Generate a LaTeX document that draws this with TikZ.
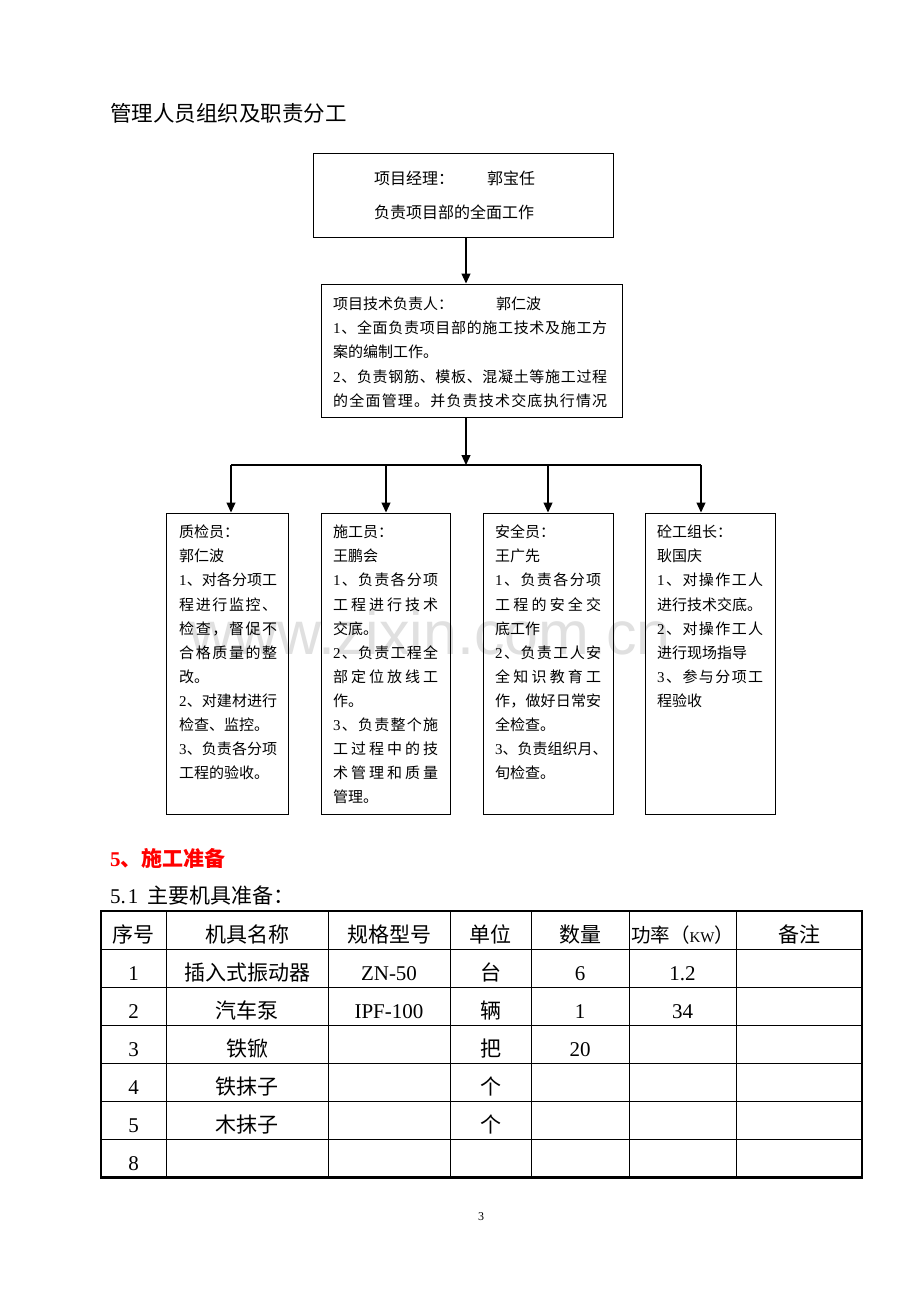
\documentclass[tikz,border=0pt]{standalone}
\usepackage{fontspec}
\setmainfont{Noto Sans CJK SC}
\newfontfamily\lat{Liberation Serif}
\newfontfamily\wmfont{Liberation Sans}
\usetikzlibrary{arrows.meta}
\definecolor{headred}{RGB}{255,0,0}
\definecolor{wmgray}{RGB}{224,224,224}
% justified line: spread characters evenly over a given width
\newcommand\JLine[2]{\hbox to #1pt{\JLfirst#2\relax}}
\def\JLfirst#1{#1\JLrest}
\def\JLrest#1{\ifx\relax#1\else\hfil#1\expandafter\JLrest\fi}
\newcommand\DgA{{\lat 1}}
\newcommand\DgB{{\lat 2}}
\newcommand\DgC{{\lat 3}}
\begin{document}
\begin{tikzpicture}[x=1pt,y=-1pt,
  box/.style={draw, line width=1.2pt, inner sep=0pt, anchor=north west},
  ln/.style={anchor=west, inner sep=0pt, text height=13.2pt, text depth=1.8pt, font=\fontsize{15}{15}\selectfont},
  lnbig/.style={anchor=west, inner sep=0pt, text height=14.1pt, text depth=1.9pt, font=\fontsize{16}{16}\selectfont},
  conn/.style={line width=1.2pt},
  arr/.style={conn, -{Triangle[length=10pt,width=9pt]}},
  cell/.style={inner sep=0pt, text height=18.5pt, text depth=2.5pt, font=\fontsize{21}{21}\selectfont},
  latcell/.style={cell, font=\lat\fontsize{21}{21}\selectfont}]
\useasboundingbox[fill=white] (0,0) rectangle (920,1302);
% watermark
\node[text=wmgray, inner sep=0pt, font=\wmfont\fontsize{61}{61}\selectfont] (wm) at (430,633) {www.zixin.com.cn};
% title
\node[anchor=west, inner sep=0pt, text height=18.9pt, text depth=2.6pt, font=\fontsize{21.5}{21.5}\selectfont] (title) at (110,113) {管理人员组织及职责分工};
% boxes
\node[box, minimum width=300.3pt, minimum height=84pt] (b1) at (312.7,152.7) {};
\node[box, minimum width=300.5pt, minimum height=133.3pt] (b2) at (321,283.5) {};
\node[box, minimum width=122pt, minimum height=301.5pt] (b3) at (166,512.5) {};
\node[box, minimum width=129.3pt, minimum height=301.5pt] (b4) at (320.7,512.5) {};
\node[box, minimum width=130pt, minimum height=301.5pt] (b5) at (482.7,512.5) {};
\node[box, minimum width=130pt, minimum height=301.5pt] (b6) at (645,512.5) {};
% box 1 text
\node[lnbig] (b1l1) at (374,178) {项目经理：\hspace{33pt}郭宝任};
\node[lnbig] (b1l2) at (374,212) {负责项目部的全面工作};
% box 2 text
\foreach \t [count=\i] in {
  项目技术负责人：\hspace{43pt}郭仁波,
  \JLine{274}{\DgA、全面负责项目部的施工技术及施工方},
  案的编制工作。,
  \JLine{274}{\DgB、负责钢筋、模板、混凝土等施工过程},
  \JLine{274}{的全面管理。并负责技术交底执行情况}}
  \node[ln] (b2l\i) at (333,{303.5+24.3*(\i-1)}) {\t};
% box 3 text
\foreach \t [count=\i] in {
  质检员：, 郭仁波,
  \JLine{98}{\DgA、对各分项工},
  \JLine{98}{程进行监控、},
  \JLine{98}{检查，督促不},
  \JLine{98}{合格质量的整},
  改。,
  \JLine{98}{\DgB、对建材进行},
  检查、监控。,
  \JLine{98}{\DgC、负责各分项},
  工程的验收。}
  \node[ln] (b3l\i) at (179,{532+24.1*(\i-1)}) {\t};
% box 4 text
\foreach \t [count=\i] in {
  施工员：, 王鹏会,
  \JLine{105}{\DgA、负责各分项},
  \JLine{105}{工程进行技术},
  交底。,
  \JLine{105}{\DgB、负责工程全},
  \JLine{105}{部定位放线工},
  作。,
  \JLine{105}{\DgC、负责整个施},
  \JLine{105}{工过程中的技},
  \JLine{105}{术管理和质量},
  管理。}
  \node[ln] (b4l\i) at (333,{532+24.1*(\i-1)}) {\t};
% box 5 text
\foreach \t [count=\i] in {
  安全员：, 王广先,
  \JLine{106}{\DgA、负责各分项},
  \JLine{106}{工程的安全交},
  底工作,
  \JLine{106}{\DgB、负责工人安},
  \JLine{106}{全知识教育工},
  \JLine{106}{作，做好日常安},
  全检查。,
  \JLine{106}{\DgC、负责组织月、},
  旬检查。}
  \node[ln] (b5l\i) at (495,{532+24.1*(\i-1)}) {\t};
% box 6 text
\foreach \t [count=\i] in {
  砼工组长：, 耿国庆,
  \JLine{106}{\DgA、对操作工人},
  进行技术交底。,
  \JLine{106}{\DgB、对操作工人},
  进行现场指导,
  \JLine{106}{\DgC、参与分项工},
  程验收}
  \node[ln] (b6l\i) at (657,{532+24.1*(\i-1)}) {\t};
% connectors
\coordinate (tx) at (466,0);
\draw[arr] (b1.south -| tx) -- (b2.north -| tx);
\coordinate (bus) at (466,465);
\coordinate (t3) at (231,465);
\coordinate (t4) at (386,465);
\coordinate (t5) at (548,465);
\coordinate (t6) at (701,465);
\draw[arr] (b2.south -| bus) -- (bus);
\draw[conn] (t3) -- (t6);
\draw[arr] (t3) -- (t3 |- b3.north);
\draw[arr] (t4) -- (t4 |- b4.north);
\draw[arr] (t5) -- (t5 |- b5.north);
\draw[arr] (t6) -- (t6 |- b6.north);
% section headings
\node[anchor=west, inner sep=0pt, text height=18.5pt, text depth=2.5pt, text=headred, font=\bfseries\fontsize{21}{21}\selectfont] (sec) at (110,858) {{\lat\bfseries 5}、施工准备};
\node[anchor=west, inner sep=0pt, text height=18.5pt, text depth=2.5pt, font=\fontsize{21}{21}\selectfont] (sub) at (110,895) {{\lat 5.\hspace{2pt}1}\hspace{9.5pt}主要机具准备：};
% table grid
\foreach \x in {166,328,450,531,629,736} \draw[line width=1pt] (\x,911) -- (\x,1177.5);
\foreach \y in {949.5,987.5,1025.5,1063.5,1101.5,1139.5} \draw[line width=1pt] (101,\y) -- (862,\y);
\draw[line width=2.2pt] (101,911) rectangle (862,1177.5);
% table text
\node[cell] (h1) at (133.5,934) {序号};
\node[cell] (h2) at (247,934) {机具名称};
\node[cell] (h3) at (389,934) {规格型号};
\node[cell] (h4) at (490.5,934) {单位};
\node[cell] (h5) at (580,934) {数量};
\node[cell, font=\fontsize{19.5}{19.5}\selectfont] (h6) at (682.5,934) {功率（{\lat\fontsize{15}{15}\selectfont KW}）};
\node[cell] (h7) at (799,934) {备注};
\node[latcell] (r1c1) at (133.5,972) {1};
\node[cell] (r1c2) at (247,972) {插入式振动器};
\node[latcell] (r1c3) at (389,972) {ZN-50};
\node[cell] (r1c4) at (490.5,972) {台};
\node[latcell] (r1c5) at (580,972) {6};
\node[latcell] (r1c6) at (682.5,972) {1.2};
\node[latcell] (r2c1) at (133.5,1010) {2};
\node[cell] (r2c2) at (247,1010) {汽车泵};
\node[latcell] (r2c3) at (389,1010) {IPF-100};
\node[cell] (r2c4) at (490.5,1010) {辆};
\node[latcell] (r2c5) at (580,1010) {1};
\node[latcell] (r2c6) at (682.5,1010) {34};
\node[latcell] (r3c1) at (133.5,1048) {3};
\node[cell] (r3c2) at (247,1048) {铁锨};
\node[cell] (r3c4) at (490.5,1048) {把};
\node[latcell] (r3c5) at (580,1048) {20};
\node[latcell] (r4c1) at (133.5,1086) {4};
\node[cell] (r4c2) at (247,1086) {铁抹子};
\node[cell] (r4c4) at (490.5,1086) {个};
\node[latcell] (r5c1) at (133.5,1124) {5};
\node[cell] (r5c2) at (247,1124) {木抹子};
\node[cell] (r5c4) at (490.5,1124) {个};
\node[latcell] (r6c1) at (133.5,1162) {8};
% page number
\node[inner sep=0pt, font=\lat\fontsize{12}{12}\selectfont] (pg) at (481,1217) {3};
\end{tikzpicture}
\end{document}
